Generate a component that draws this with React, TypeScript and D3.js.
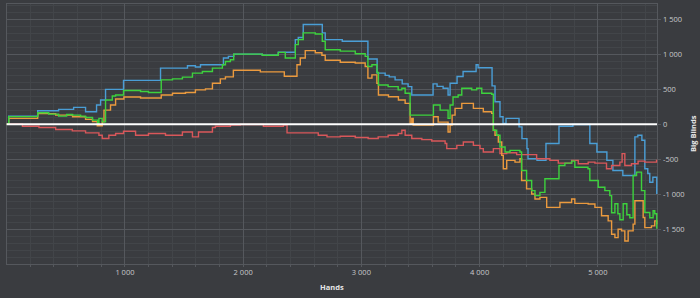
import React from "react";
import * as d3 from "d3";

type Pt = [number, number];

// [hands, big blinds]
const blueSeries: Pt[] = [[0,0],[17,115],[262,191],[439,211],[566,240],[667,177],[760,273],[794,345],[836,496],[988,625],[1301,800],[1529,833],[1596,815],[1639,848],[1833,944],[1875,967],[1920,999],[2162,984],[2297,1027],[2441,1207],[2466,1236],[2508,1423],[2669,1303],[2694,1207],[2838,1183],[3055,930],[3133,729],[3201,697],[3235,675],[3285,632],[3345,575],[3395,536],[3426,417],[3606,575],[3640,539],[3691,513],[3733,417],[3750,585],[3809,680],[3860,752],[3970,848],[3987,805],[4105,546],[4130,320],[4172,105],[4198,10],[4223,82],[4333,-39],[4358,-206],[4400,-349],[4409,-493],[4485,-517],[4561,-277],[4671,-29],[4789,-4],[4932,-277],[4992,-398],[5076,-517],[5127,-661],[5211,-733],[5313,-182],[5338,-158],[5372,-230],[5397,-637],[5422,-704],[5439,-829],[5465,-757],[5498,-996]];

const greenSeries: Pt[] = [[0,0],[17,108],[262,162],[355,144],[439,115],[507,137],[557,129],[625,115],[667,96],[726,57],[769,10],[780,82],[808,33],[836,345],[893,402],[921,417],[988,481],[1132,467],[1199,453],[1307,632],[1402,647],[1486,671],[1571,729],[1655,752],[1740,800],[1824,848],[1850,895],[1892,920],[1920,999],[2162,984],[2297,1025],[2356,944],[2441,1135],[2466,1207],[2508,1303],[2610,1286],[2669,1183],[2694,1063],[2821,1042],[2948,1006],[3032,967],[3055,823],[3089,848],[3131,737],[3144,560],[3226,536],[3311,489],[3342,513],[3370,441],[3412,129],[3609,273],[3666,201],[3733,82],[3750,273],[3775,388],[3818,417],[3849,513],[3933,489],[3975,513],[4018,441],[4102,427],[4116,-86],[4144,-158],[4172,-326],[4215,-398],[4257,-374],[4341,-398],[4355,-661],[4397,-805],[4440,-948],[4468,-1020],[4510,-973],[4552,-780],[4671,-589],[4721,-556],[4778,-527],[4805,-614],[4916,-637],[4932,-805],[5003,-901],[5059,-948],[5101,-1020],[5116,-1265],[5144,-1135],[5169,-1279],[5186,-1365],[5214,-1135],[5245,-1293],[5270,-1336],[5298,-733],[5327,-685],[5369,-948],[5397,-1260],[5439,-1336],[5467,-1236],[5481,-1279],[5498,-1494]];

const orangeSeries: Pt[] = [[0,0],[17,82],[262,151],[414,129],[557,105],[667,68],[726,36],[766,-22],[808,33],[823,201],[878,273],[921,359],[991,388],[1132,374],[1307,417],[1402,441],[1512,453],[1596,489],[1681,503],[1740,585],[1807,647],[1850,675],[1917,769],[2145,747],[2348,683],[2455,848],[2483,944],[2525,1049],[2610,1020],[2666,984],[2694,912],[2821,884],[2948,872],[3032,823],[3055,657],[3089,704],[3131,585],[3144,417],[3229,392],[3313,345],[3370,297],[3412,10],[3426,82],[3438,-14],[3609,105],[3649,29],[3733,-111],[3750,-14],[3767,129],[3792,226],[3849,297],[3947,226],[4031,177],[4102,154],[4116,-86],[4130,-158],[4158,-254],[4187,-445],[4200,-637],[4229,-517],[4299,-542],[4341,-493],[4355,-805],[4397,-924],[4440,-996],[4468,-1068],[4510,-1045],[4567,-1188],[4679,-1117],[4778,-1068],[4805,-1131],[4918,-1140],[4975,-1188],[5031,-1308],[5087,-1380],[5116,-1571],[5144,-1619],[5171,-1499],[5200,-1523],[5228,-1667],[5256,-1523],[5298,-1427],[5313,-1092],[5354,-1092],[5383,-1332],[5397,-1476],[5453,-1451],[5481,-1380],[5498,-1427]];

const redSeries: Pt[] = [[0,0],[133,-29],[273,-47],[414,-76],[555,-96],[667,-125],[780,-158],[808,-205],[864,-158],[921,-134],[988,-101],[1090,-158],[1199,-134],[1343,-158],[1486,-111],[1571,-182],[1622,-111],[1740,-47],[1765,-29],[1892,-14],[1976,-4],[2171,-29],[2340,-14],[2371,-125],[2525,-125],[2635,-158],[2709,-182],[2821,-172],[2948,-191],[3057,-205],[3142,-182],[3226,-158],[3311,-134],[3342,-86],[3370,-158],[3426,-205],[3511,-220],[3595,-240],[3708,-277],[3722,-349],[3807,-302],[3862,-254],[3947,-302],[4003,-349],[4031,-398],[4116,-349],[4172,-421],[4229,-407],[4313,-435],[4397,-435],[4482,-493],[4594,-517],[4665,-556],[4778,-517],[4834,-565],[4918,-542],[4975,-556],[5073,-637],[5116,-589],[5186,-542],[5205,-421],[5228,-589],[5284,-565],[5340,-527],[5397,-542],[5496,-507]];

const xTicks = [1000, 2000, 3000, 4000, 5000];
const yTicks = [1500, 1000, 500, 0, -500, -1000, -1500];
const xTitle = "Hands";
const yTitle = "Big Blinds";

const W = 700;
const H = 298;
const PL = 6.7, PR = 657, PT = 3.3, PB = 264.3;

const fmt = d3.formatLocale({ decimal: ".", thousands: " ", grouping: [3], currency: ["", ""], minus: "-" }).format(",");

export default function App() {
  const x = d3.scaleLinear().domain([0, 5500]).range([PL, PR]);
  const y = d3.scaleLinear().domain([-2000, 1725]).range([PB, PT]);
  const line = d3.line<Pt>().x(d => x(d[0])).y(d => y(d[1])).curve(d3.curveStepAfter);

  const minorX = d3.range(200, 5500, 200).filter(v => v % 1000 !== 0);
  const majorX = d3.range(1000, 5500, 1000);
  const minorY = d3.range(-1900, 1725, 100).filter(v => v % 500 !== 0);
  const majorY = d3.range(-1500, 1725, 500).filter(v => v !== 0);

  const series = [
    { data: blueSeries, color: "#4a9ed6" },
    { data: redSeries, color: "#d9575a" },
    { data: orangeSeries, color: "#eb9a3e" },
    { data: greenSeries, color: "#3dd23d" },
  ];

  const font = "'Open Sans', 'Noto Sans', sans-serif";
  const minorC = "#424549";
  const majorC = "#55585d";

  return (
    <svg width={W} height={H} style={{ position: "fixed", left: 0, top: 0, background: "#3a3c40" }}>
      <rect x={0} y={0} width={W} height={H} fill="#3a3c40" />
      <g shapeRendering="crispEdges">
        {minorX.map(v => (
          <line key={"mx" + v} x1={x(v)} x2={x(v)} y1={PT} y2={PB} stroke={minorC} strokeWidth={1} />
        ))}
        {minorY.map(v => (
          <line key={"my" + v} x1={PL} x2={PR} y1={y(v)} y2={y(v)} stroke={minorC} strokeWidth={1} />
        ))}
        {majorX.map(v => (
          <line key={"MX" + v} x1={x(v)} x2={x(v)} y1={PT} y2={PB} stroke={majorC} strokeWidth={1} />
        ))}
        {majorY.map(v => (
          <line key={"MY" + v} x1={PL} x2={PR} y1={y(v)} y2={y(v)} stroke={majorC} strokeWidth={1} />
        ))}
        <rect x={PL} y={PT} width={PR - PL} height={PB - PT} fill="none" stroke={majorC} strokeWidth={1} />
        {d3.range(200, 5500, 200).map(v => (
          <line key={"tx" + v} x1={x(v)} x2={x(v)} y1={PB} y2={PB + 3} stroke={majorC} strokeWidth={1} />
        ))}
        {yTicks.map(v => (
          <line key={"ty" + v} x1={PR} x2={PR + 4} y1={y(v)} y2={y(v)} stroke={majorC} strokeWidth={1} />
        ))}
      </g>
      {series.map((s, i) => (
        <path key={i} d={line(s.data) || ""} fill="none" stroke={s.color} strokeWidth={1.4} />
      ))}
      <line x1={PL} x2={PR} y1={y(0)} y2={y(0)} stroke="#ffffff" strokeWidth={2} />
      {xTicks.map(v => (
        <text key={"xl" + v} x={x(v)} y={275} textAnchor="middle" fontSize={7.5} fill="#c8c9cb" fontFamily={font}>
          {fmt(v)}
        </text>
      ))}
      {yTicks.map(v => (
        <text key={"yl" + v} x={663} y={y(v)} dy="0.35em" textAnchor="start" fontSize={7.5} fill="#c8c9cb" fontFamily={font}>
          {fmt(v)}
        </text>
      ))}
      <text x={(PL + PR) / 2} y={290} textAnchor="middle" fontSize={7.5} fontWeight="bold" fill="#e6e6e6" fontFamily={font}>
        {xTitle}
      </text>
      <text transform={`translate(693.5, ${(PT + PB) / 2}) rotate(-90)`} dy="0.35em" textAnchor="middle" fontSize={7.5} fontWeight="bold" fill="#e6e6e6" fontFamily={font}>
        {yTitle}
      </text>
    </svg>
  );
}
